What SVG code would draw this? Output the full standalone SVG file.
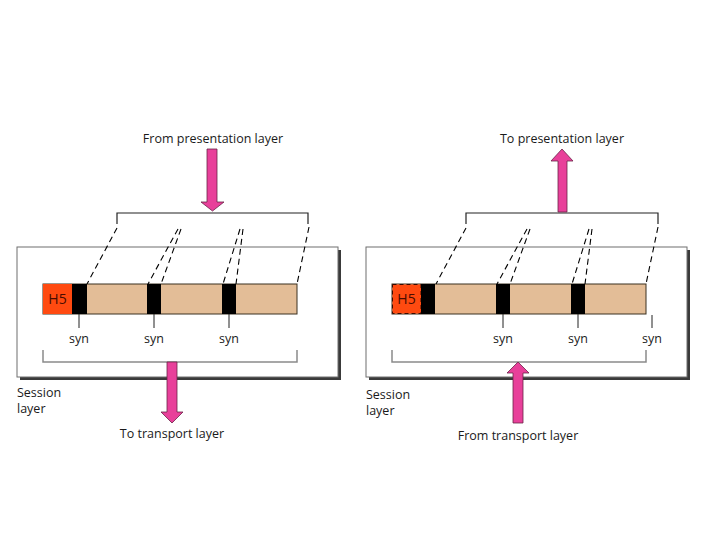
<svg xmlns="http://www.w3.org/2000/svg" width="720" height="540" viewBox="0 0 720 540">
<style>
text{font-family:"Open Sans","Noto Sans","Liberation Sans",sans-serif;font-size:12.5px;fill:#1a1a1a}
.mid{text-anchor:middle}
.h5t{font-size:14px;fill:#4a0c00}
.box{fill:#fff;stroke:#6f6f6f;stroke-width:1}
.shadow{fill:#3a3a3a}
.bar{fill:#e3bd97;stroke:#3a3020;stroke-width:1}
.h5{fill:#ff4a10}
.syn{fill:#000}
.tick{stroke:#222;stroke-width:1}
.brk{fill:none;stroke:#222;stroke-width:1.2}
.brkg{fill:none;stroke:#8a8a8a;stroke-width:1.5}
.dash{stroke:#000;stroke-width:1.1;stroke-dasharray:6 4;fill:none}
.arrow{fill:#e8409a;stroke:#6a2448;stroke-width:0.8}
</style>

<g id="left-panel">
  <rect class="shadow" x="20" y="250" width="321" height="130"/>
  <rect class="box" x="17" y="247" width="321" height="130"/>
</g>
<g id="right-panel">
  <rect class="shadow" x="369" y="250" width="321" height="130"/>
  <rect class="box" x="366" y="247" width="321" height="130"/>
</g>

<g id="left-data">
  <rect class="bar" x="43" y="284" width="254" height="30"/>
  <rect class="h5" x="43" y="284" width="29" height="30"/>
  <text x="57.5" y="304" class="mid h5t">H5</text>
  <rect class="syn" x="72" y="284" width="15" height="30"/>
  <rect class="syn" x="147" y="284" width="14" height="30"/>
  <rect class="syn" x="222" y="284" width="14" height="30"/>
</g>
<g id="right-data">
  <rect class="bar" x="392" y="284" width="254" height="30"/>
  <rect class="h5" x="392.5" y="284.5" width="28.5" height="29" style="stroke:#3a0a00;stroke-width:1;stroke-dasharray:4 3"/>
  <text x="406.5" y="304" class="mid h5t">H5</text>
  <rect class="syn" x="421" y="284" width="14" height="30"/>
  <rect class="syn" x="496" y="284" width="14" height="30"/>
  <rect class="syn" x="571" y="284" width="14" height="30"/>
</g>

<g id="left-syn">
  <line class="tick" x1="79" y1="314" x2="79" y2="328"/>
  <line class="tick" x1="154" y1="314" x2="154" y2="328"/>
  <line class="tick" x1="229" y1="314" x2="229" y2="328"/>
  <text x="79" y="343" class="mid">syn</text>
  <text x="154" y="343" class="mid">syn</text>
  <text x="229" y="343" class="mid">syn</text>
</g>
<g id="right-syn">
  <line class="tick" x1="503" y1="314" x2="503" y2="328"/>
  <line class="tick" x1="578" y1="314" x2="578" y2="328"/>
  <line class="tick" x1="652" y1="315" x2="652" y2="328"/>
  <text x="503" y="343" class="mid">syn</text>
  <text x="578" y="343" class="mid">syn</text>
  <text x="652" y="343" class="mid">syn</text>
</g>

<g id="connectors">
  <path class="brk" d="M117 224 V213 H308 V224"/>
  <path class="brk" d="M466 224 V213 H658 V224"/>
  <path class="brkg" d="M43 350 V362 H297 V350"/>
  <path class="brkg" d="M392 350 V362 H646 V350"/>
  <line class="dash" x1="117" y1="228" x2="87" y2="284"/>
  <line class="dash" x1="178" y1="229" x2="148" y2="284"/>
  <line class="dash" x1="181" y1="229" x2="161" y2="284"/>
  <line class="dash" x1="240" y1="229" x2="223" y2="284"/>
  <line class="dash" x1="243" y1="229" x2="236" y2="284"/>
  <line class="dash" x1="309" y1="227" x2="297" y2="284"/>
  <line class="dash" x1="466" y1="228" x2="436" y2="284"/>
  <line class="dash" x1="527" y1="229" x2="497" y2="284"/>
  <line class="dash" x1="530" y1="229" x2="510" y2="284"/>
  <line class="dash" x1="589" y1="229" x2="572" y2="284"/>
  <line class="dash" x1="592" y1="229" x2="585" y2="284"/>
  <line class="dash" x1="658" y1="227" x2="646" y2="284"/>
  <path class="arrow" d="M207 149 H217 V202 H224 L212.5 211 L201 202 H207 Z"/>
  <path class="arrow" d="M558 212 V161 H551 L562 149 L573 161 H567 V212 Z"/>
  <path class="arrow" d="M167 362 H177 V412 H183 L172 423 L161 412 H167 Z"/>
  <path class="arrow" d="M513 423 V373 H507 L518 362 L529 373 H523 V423 Z"/>
</g>

<g id="labels">
  <text x="213" y="143" class="mid">From presentation layer</text>
  <text x="562" y="143" class="mid">To presentation layer</text>
  <text x="172" y="438" class="mid">To transport layer</text>
  <text x="518" y="440" class="mid">From transport layer</text>
  <text x="17" y="397">Session</text>
  <text x="17" y="413">layer</text>
  <text x="366" y="399">Session</text>
  <text x="366" y="415">layer</text>
</g>
</svg>
